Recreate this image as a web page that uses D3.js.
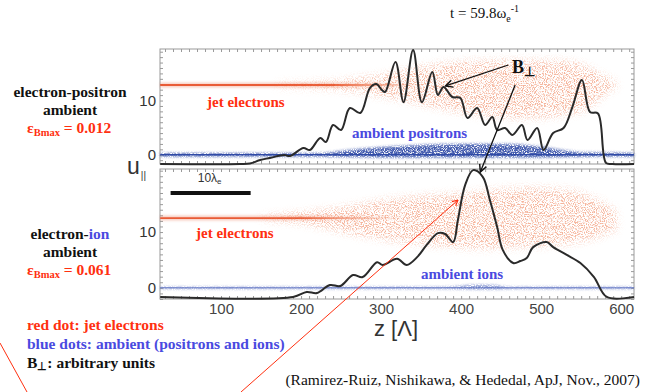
<!DOCTYPE html>
<html>
<head>
<meta charset="utf-8">
<script src="https://cdn.jsdelivr.net/npm/d3@7/dist/d3.min.js"></script>
<style>
  body { margin: 0; background: #fff; }
  svg { display: block; }
</style>
</head>
<body>
<div id="chart"></div>
<script>
// x axis (z in units of Lambda)
const zTicks = [100, 200, 300, 400, 500, 600];
const minorZ = d3.range(30, 616, 10);

// B-perp profile, electron-positron ambient (arbitrary units on u scale)
const bTopZ = [24, 124, 136, 149, 161, 179, 186, 203, 211, 224, 231, 240, 250, 261, 274, 286, 294, 301, 305, 318,
  328, 340, 351, 364, 371, 378, 389, 399, 408, 420, 430, 439, 445, 455, 464, 476, 483, 495, 503, 515, 528, 539,
  551, 561, 571, 581, 589, 616];
const bTopU = [-1.7, -1.7, -1.6, -0.96, -0.59, -0.04, -0.23, 1.25, 0.88, 3.09, 2.36, 5.49, 4.57, 8.62, 7.7, 12.3,
  13.05, 11.94, 11.57, 17.1, 9.7, 19.3, 9.7, 15.26, 11.02, 12.5, 10.65, 10.47, 6.78, 8.62, 5.49, 6.96, 4.57, 4.94,
  3.65, 5.49, 2.72, 4.94, 0.88, 4.0, 4.94, 8.8, 13.8, 7.9, 7.6, -1.5, -1.7, -1.7];

// B-perp profile, electron-ion ambient
const bBotZ = [24, 190, 207, 220, 236, 249, 265, 277, 295, 302, 320, 332, 345, 357, 371, 380, 390, 396, 405, 415,
  427, 436, 445, 452, 465, 474, 482, 490, 507, 515, 532, 549, 566, 582, 616];
const bBotU = [-1.64, -1.64, -0.75, -0.93, 0.5, 0.33, 2.3, 1.94, 4.6, 4.1, 5.2, 4.1, 5.5, 7.7, 9.8, 9.65, 8.2, 12.2,
  18.4, 21.1, 19.9, 15.7, 10.9, 6.8, 4.45, 4.8, 5.35, 7.3, 8.2, 7.3, 5.9, 4.45, 1.94, -1.64, -1.64];

// jet electron cloud (lower / upper edge of u), top panel
const jetTopZ = [170, 240, 280, 310, 350, 410, 470, 530, 560, 575, 585, 594];
const jetTopLo = [12.6, 12.2, 11.4, 10.6, 9.4, 7.6, 6.8, 7.4, 8.8, 10.6, 11.8, 12.5];
const jetTopHi = [13.1, 13.5, 14.2, 14.9, 16.2, 17.2, 17.4, 17.2, 16.0, 14.6, 14.0, 13.2];
const jetTopCore = 12.86;

// jet electron cloud, bottom panel
const jetBotZ = [150, 210, 260, 300, 350, 420, 480, 530, 560, 580, 594];
const jetBotLo = [12.25, 11.4, 9.8, 8.8, 7.9, 7.1, 7.4, 7.9, 8.7, 9.6, 10.5];
const jetBotHi = [12.75, 13.6, 14.6, 15.6, 16.4, 17.2, 17.9, 17.6, 16.4, 15.0, 13.5];
const jetBotCore = 12.5;

// ambient positrons, top panel
const ambTopZ = [24, 220, 260, 300, 350, 400, 450, 500, 530, 560, 616];
const ambTopLo = [-0.3, -0.3, -0.4, -0.5, -0.5, -0.5, -0.5, -0.5, -0.4, -0.3, -0.3];
const ambTopHi = [0.3, 0.3, 0.9, 1.4, 1.8, 2.0, 2.0, 1.5, 0.8, 0.4, 0.3];

// ambient ions, bottom panel
const ambBotZ = [24, 380, 420, 440, 460, 616];
const ambBotLo = [-0.15, -0.15, -0.25, -0.25, -0.15, -0.15];
const ambBotHi = [0.15, 0.15, 0.5, 0.45, 0.15, 0.15];

const W = 645, H = 392;
const red = '#ff3010', blue = '#4a4ae0';
const SERIF = "'Liberation Serif', 'Times New Roman', serif";
const SANS = "'Liberation Sans', Arial, sans-serif";

const x = d3.scaleLinear().domain([23.75, 616]).range([160, 634]);
const yTop = d3.scaleLinear().domain([-1.7, 19.5]).range([164, 49]);
const yBot = d3.scaleLinear().domain([-2, 21.3]).range([299, 169]);

const svg = d3.select('#chart').append('svg').attr('width', W).attr('height', H);
const defs = svg.append('defs');

// grainy look for the particle clouds
const speckle = (id, blurDev, freq, gain, offset) => {
  const f = defs.append('filter').attr('id', id)
    .attr('filterUnits', 'userSpaceOnUse').attr('x', 0).attr('y', 0).attr('width', W).attr('height', H);
  f.append('feGaussianBlur').attr('in', 'SourceGraphic').attr('stdDeviation', blurDev).attr('result', 'soft');
  f.append('feTurbulence').attr('type', 'fractalNoise').attr('baseFrequency', freq)
    .attr('numOctaves', 2).attr('seed', 7).attr('result', 'noise');
  f.append('feColorMatrix').attr('in', 'noise').attr('type', 'matrix')
    .attr('values', `0 0 0 0 0  0 0 0 0 0  0 0 0 0 0  ${gain} 0 0 0 ${offset}`).attr('result', 'mask');
  f.append('feComposite').attr('in', 'soft').attr('in2', 'mask').attr('operator', 'in');
};
speckle('speckleJet', 4, 0.9, 5, -2.3);
speckle('speckleAmb', 1.5, 0.9, 4, -1.2);

const blur = defs.append('filter').attr('id', 'soft')
  .attr('filterUnits', 'userSpaceOnUse').attr('x', 0).attr('y', 0).attr('width', W).attr('height', H);
blur.append('feGaussianBlur').attr('stdDeviation', 0.8);

const arrowHead = (id, color) => defs.append('marker').attr('id', id)
  .attr('viewBox', '0 0 10 10').attr('refX', 9).attr('refY', 5)
  .attr('markerWidth', 7).attr('markerHeight', 7).attr('orient', 'auto')
  .append('path').attr('d', 'M1,1 L9,5 L1,9').attr('fill', 'none')
  .attr('stroke', color).attr('stroke-width', 1.6);
arrowHead('arrowBlack', '#111');
arrowHead('arrowRed', red);

const panels = [
  { y: yTop, bz: bTopZ, bu: bTopU, jz: jetTopZ, jlo: jetTopLo, jhi: jetTopHi, core: jetTopCore, coreEnd: [240, 350],
    az: ambTopZ, alo: ambTopLo, ahi: ambTopHi, ambColor: '#2f4aa6', ambLine: 1.6, ambOp: 0.9 },
  { y: yBot, bz: bBotZ, bu: bBotU, jz: jetBotZ, jlo: jetBotLo, jhi: jetBotHi, core: jetBotCore, coreEnd: [200, 320],
    az: ambBotZ, alo: ambBotLo, ahi: ambBotHi, ambColor: '#5a6fc0', ambLine: 1, ambOp: 0.8 }
];

panels.forEach((p, i) => {
  const y = p.y;
  const g = svg.append('g');
  const [y0, y1] = y.range();

  g.append('rect').attr('x', x.range()[0]).attr('y', y1)
    .attr('width', x.range()[1] - x.range()[0]).attr('height', y0 - y1)
    .attr('fill', '#fff').attr('stroke', '#9a9a9a').attr('stroke-width', 1);

  // inward minor ticks on all four sides
  const tickG = g.append('g');
  tickG.append('g').attr('transform', `translate(0,${y1})`)
    .call(d3.axisBottom(x).tickValues(minorZ).tickSize(3).tickFormat(''));
  tickG.append('g').attr('transform', `translate(0,${y0})`)
    .call(d3.axisTop(x).tickValues(minorZ).tickSize(3).tickFormat(''));
  const minorU = d3.range(Math.ceil(y.domain()[0]), y.domain()[1], 1);
  tickG.append('g').attr('transform', `translate(${x.range()[0]},0)`)
    .call(d3.axisRight(y).tickValues(minorU).tickSize(3).tickFormat(''));
  tickG.append('g').attr('transform', `translate(${x.range()[1]},0)`)
    .call(d3.axisLeft(y).tickValues(minorU).tickSize(3).tickFormat(''));
  tickG.selectAll('.domain').remove();
  tickG.selectAll('line').attr('stroke', '#9a9a9a');

  // y labels
  const yl = g.append('g').attr('transform', `translate(${x.range()[0] - 1},0)`)
    .call(d3.axisLeft(y).tickValues([0, 10]).tickSize(0).tickPadding(3));
  yl.select('.domain').remove();
  yl.selectAll('text').style('font-family', SANS).style('font-size', '15px').attr('fill', '#333');

  // ambient particles
  const band = (zs, lo, hi) => d3.area().x((d, k) => x(zs[k])).y0((d, k) => y(lo[k])).y1((d, k) => y(hi[k]))
    .curve(d3.curveMonotoneX)(zs);
  g.append('path').attr('d', band(p.az, p.alo, p.ahi))
    .attr('fill', p.ambColor).attr('opacity', p.ambOp).attr('filter', 'url(#speckleAmb)');
  g.append('path').attr('d', d3.line()([[x(p.az[0]), y(0)], [x(p.az[p.az.length - 1]), y(0)]]))
    .attr('stroke', p.ambColor).attr('stroke-width', p.ambLine).attr('fill', 'none');

  // jet electrons: cold beam core fading out, then the heated cloud
  const grad = defs.append('linearGradient').attr('id', 'core' + i)
    .attr('gradientUnits', 'userSpaceOnUse')
    .attr('x1', x(p.coreEnd[0])).attr('x2', x(p.coreEnd[1])).attr('y1', 0).attr('y2', 0);
  grad.append('stop').attr('offset', 0).attr('stop-color', '#e8552e').attr('stop-opacity', 0.95);
  grad.append('stop').attr('offset', 1).attr('stop-color', '#f08a60').attr('stop-opacity', 0);
  const coreLine = d3.line()([[x(24), y(p.core)], [x(p.coreEnd[1]), y(p.core)]]);
  g.append('path').attr('d', coreLine)
    .attr('stroke', `url(#core${i})`).attr('stroke-width', 5).attr('opacity', 0.3).attr('filter', 'url(#soft)');
  g.append('path').attr('d', coreLine)
    .attr('stroke', `url(#core${i})`).attr('stroke-width', 1.8);
  g.append('path').attr('d', band(p.jz, p.jlo, p.jhi))
    .attr('fill', '#f0845c').attr('opacity', 0.6).attr('filter', 'url(#speckleJet)');

  // B-perp
  g.append('path')
    .attr('d', d3.line().x((d, k) => x(p.bz[k])).y((d, k) => y(p.bu[k])).curve(d3.curveCatmullRom.alpha(0.5))(p.bz))
    .attr('fill', 'none').attr('stroke', '#2a2a2a').attr('stroke-width', 2).attr('stroke-linejoin', 'round');
});

// x axis labels under the lower panel
const xl = svg.append('g').attr('transform', `translate(0,${yBot.range()[0]})`)
  .call(d3.axisBottom(x).tickValues(zTicks).tickSize(0).tickPadding(4));
xl.select('.domain').remove();
xl.selectAll('text').style('font-family', SANS).style('font-size', '15px').attr('fill', '#444');

svg.append('text').style('font-family', SANS).attr('x', 396).attr('y', 336).attr('text-anchor', 'middle')
  .style('font-size', '22px').attr('fill', '#333').text('z [Λ]');

const uLab = svg.append('text').style('font-family', SANS).attr('x', 127).attr('y', 174)
  .style('font-size', '23px').attr('fill', '#333');
uLab.append('tspan').text('u');
uLab.append('tspan').attr('dx', 1).attr('dy', 5).style('font-size', '10px').text('||');

// scale bar in the lower panel
const barZ = [37, 137];
svg.append('line').attr('x1', x(barZ[0])).attr('x2', x(barZ[1])).attr('y1', yBot(17)).attr('y2', yBot(17))
  .attr('stroke', '#111').attr('stroke-width', 4);
const bl = svg.append('text').style('font-family', SANS).attr('x', x(d3.mean(barZ)) - 1).attr('y', yBot(18.9))
  .attr('text-anchor', 'middle').style('font-size', '12px').attr('fill', '#333');
bl.append('tspan').text('10λ');
bl.append('tspan').attr('dy', 2).style('font-size', '8px').text('e');

// serif helper
const serif = (xp, yp, size, weight, color) => svg.append('text').style('font-family', SERIF)
  .attr('x', xp).attr('y', yp).style('font-size', size + 'px').style('font-weight', weight).attr('fill', color);

// in-plot labels
serif(207, 107, 15, 'bold', red).text('jet electrons');
serif(196, 238, 15, 'bold', red).text('jet electrons');
serif(352, 138, 15, 'bold', blue).text('ambient positrons');
serif(421, 279, 15, 'bold', blue).text('ambient ions');

const bLab = serif(512, 73, 18, 'bold', '#111');
bLab.append('tspan').text('B');
bLab.append('tspan').attr('dy', 3).style('font-size', '13px').text('⊥');

// arrows to B-perp curves
svg.append('line').attr('x1', x(459)).attr('y1', yTop(16.55)).attr('x2', x(378) + 2).attr('y2', yTop(12.5) - 1)
  .attr('stroke', '#111').attr('stroke-width', 1.3).attr('marker-end', 'url(#arrowBlack)');
svg.append('line').attr('x1', x(467.5)).attr('y1', yTop(12.86)).attr('x2', x(424)).attr('y2', yBot(20.76))
  .attr('stroke', '#111').attr('stroke-width', 1.3).attr('marker-end', 'url(#arrowBlack)');

// red pointer lines over the figure
svg.append('line').attr('x1', 241).attr('y1', 392).attr('x2', 458).attr('y2', 200)
  .attr('stroke', red).attr('stroke-width', 1).attr('marker-end', 'url(#arrowRed)');
svg.append('line').attr('x1', 0).attr('y1', 343).attr('x2', 27).attr('y2', 392)
  .attr('stroke', red).attr('stroke-width', 1);

// time stamp
const tLab = serif(450, 18, 15, 'normal', '#111');
tLab.append('tspan').text('t = 59.8ω');
tLab.append('tspan').attr('dy', 4).style('font-size', '10px').text('e');
tLab.append('tspan').attr('dy', -10).style('font-size', '10px').text('-1');

// left-hand case labels
const caseLabel = (yp, parts, eps) => {
  const t = serif(70, yp, 15.5, 'bold', '#111').attr('text-anchor', 'middle');
  parts.forEach(([s, c]) => t.append('tspan').attr('fill', c).text(s));
  serif(70, yp + 18, 15.5, 'bold', '#111').attr('text-anchor', 'middle').text('ambient');
  const e = serif(27, yp + 36, 15.5, 'bold', red);
  e.append('tspan').text('ε');
  e.append('tspan').attr('dy', 3).style('font-size', '10.5px').text('Bmax');
  e.append('tspan').attr('dy', -3).text(' =  ' + eps);
};
caseLabel(97, [['electron-positron', '#111']], '0.012');
caseLabel(239, [['electron-', '#111'], ['ion', blue]], '0.061');

// legend notes
serif(27, 330, 15.5, 'bold', red).text('red dot: jet electrons');
serif(27, 349, 15.5, 'bold', blue).text('blue dots: ambient (positrons and ions)');
const bn = serif(27, 368, 15.5, 'bold', '#111');
bn.append('tspan').text('B');
bn.append('tspan').attr('dy', 2).style('font-size', '11px').text('⊥');
bn.append('tspan').attr('dy', -2).text(': arbitrary units');

serif(640, 385, 15.5, 'normal', '#111').attr('text-anchor', 'end')
  .text('(Ramirez-Ruiz, Nishikawa, & Hededal, ApJ, Nov., 2007)');
</script>
</body>
</html>
